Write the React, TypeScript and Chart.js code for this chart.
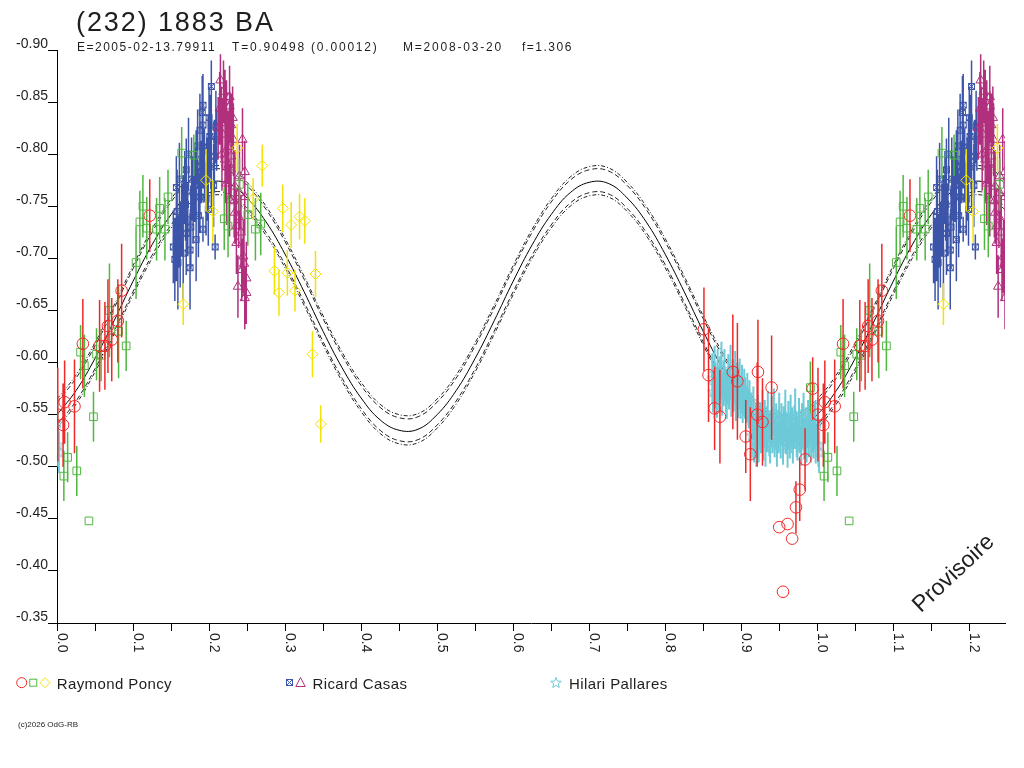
import React, { useEffect, useRef } from 'react';
import { Chart, registerables } from 'chart.js';

Chart.register(...registerables);

const FONT = '"Liberation Sans", Arial, sans-serif';
const TEXT = '#1e1e1e';

const RED = '#f02828';
const GREEN = '#50b840';
const YELLOW = '#f2e200';
const BLUE = '#3c55a8';
const MAGENTA = '#b0307e';
const CYAN = '#6ecad8';

// axes
const X_MIN = 0;
const X_MAX = 1.247;
const Y_TOP = -0.9;
const Y_BOTTOM = -0.35;
const X_LABELS = [0.0, 0.1, 0.2, 0.3, 0.4, 0.5, 0.6, 0.7, 0.8, 0.9, 1.0, 1.1, 1.2];

// fitted light curve
const curvePhase = [
  0.0, 0.025, 0.05, 0.075, 0.1, 0.125, 0.15, 0.175, 0.2, 0.225,
  0.25, 0.275, 0.3, 0.325, 0.35, 0.375, 0.4, 0.425, 0.45, 0.475,
  0.5, 0.525, 0.55, 0.575, 0.6, 0.625, 0.65, 0.675, 0.7, 0.725,
  0.75, 0.775, 0.8, 0.825, 0.85, 0.875, 0.9, 0.925, 0.95, 0.975,
  1.0, 1.025, 1.05, 1.075, 1.1, 1.125, 1.15, 1.175, 1.2, 1.225, 1.25,
];
const curveMag = [
  -0.550, -0.573, -0.604, -0.640, -0.678, -0.713, -0.742, -0.763, -0.773, -0.772,
  -0.758, -0.735, -0.704, -0.668, -0.630, -0.595, -0.566, -0.545, -0.535, -0.536,
  -0.550, -0.573, -0.604, -0.640, -0.678, -0.713, -0.742, -0.763, -0.773, -0.772,
  -0.758, -0.735, -0.704, -0.668, -0.630, -0.595, -0.566, -0.545, -0.535, -0.536,
  -0.550, -0.573, -0.604, -0.640, -0.678, -0.713, -0.742, -0.763, -0.773, -0.772, -0.758,
];
// envelope lines: offsets from the fitted curve (mag)
const envelopeOffsets = [-0.015, -0.012, 0.010, 0.013];

// Raymond Poncy — circles
const redPhase = [
  0.001, 0.008, 0.010, 0.023, 0.034, 0.056, 0.063, 0.067, 0.072, 0.080,
  0.085, 0.122, 0.851, 0.857, 0.865, 0.872, 0.889, 0.895, 0.906, 0.912,
  0.921, 0.922, 0.928, 0.940, 0.950, 0.955, 0.961, 0.967, 0.972, 0.977,
  0.984, 0.994,
];
const redMag = [
  -0.550, -0.540, -0.562, -0.558, -0.618, -0.616, -0.616, -0.635, -0.622, -0.640,
  -0.669, -0.741, -0.632, -0.588, -0.556, -0.548, -0.591, -0.582, -0.529, -0.512,
  -0.550, -0.591, -0.543, -0.576, -0.442, -0.380, -0.445, -0.431, -0.461, -0.478,
  -0.507, -0.575,
];
const redErr = [
  0.045, 0.040, 0.040, 0.045, 0.043, 0.044, 0.042, 0.045, 0.040, 0.040,
  0.045, 0.035, 0.040, 0.045, 0.040, 0.045, 0.055, 0.056, 0.035, 0.045,
  0.050, 0.050, 0.042, 0.050, 0, 0, 0, 0, 0.025, 0.030,
  0.030, 0.030,
];

// Raymond Poncy — squares
const greenPhase = [
  0.009, 0.014, 0.026, 0.031, 0.036, 0.042, 0.048, 0.052, 0.058, 0.069,
  0.081, 0.091, 0.104, 0.109, 0.113, 0.118, 0.131, 0.135, 0.142, 0.146,
  0.164, 0.180, 0.220, 0.225, 0.240, 0.251, 0.261, 0.268, 0.991,
];
const greenMag = [
  -0.491, -0.509, -0.496, -0.610, -0.597, -0.448, -0.548, -0.608, -0.607, -0.650,
  -0.630, -0.616, -0.696, -0.735, -0.750, -0.729, -0.728, -0.748, -0.728, -0.759,
  -0.801, -0.799, -0.738, -0.731, -0.771, -0.742, -0.728, -0.733, -0.576,
];
const greenErr = [
  0.024, 0.024, 0.024, 0.026, 0.030, 0, 0.024, 0.025, 0.025, 0.045,
  0.045, 0.024, 0.035, 0.030, 0.030, 0.030, 0.030, 0.030, 0.030, 0.026,
  0.025, 0.020, 0.030, 0.030, 0.025, 0.030, 0.030, 0.030, 0.025,
];

// Raymond Poncy — diamonds
const yellowPhase = [
  0.166, 0.196, 0.205, 0.237, 0.258, 0.270, 0.286, 0.292, 0.297, 0.303,
  0.308, 0.313, 0.319, 0.326, 0.336, 0.340, 0.347,
];
const yellowMag = [
  -0.656, -0.775, -0.745, -0.806, -0.757, -0.789, -0.688, -0.667, -0.748, -0.686,
  -0.732, -0.669, -0.740, -0.736, -0.608, -0.685, -0.541,
];
const yellowErr = [
  0.020, 0.030, 0.030, 0.023, 0.020, 0.020, 0.023, 0.022, 0.023, 0.022,
  0.022, 0.020, 0.022, 0.022, 0.022, 0.022, 0.018,
];

// Ricard Casas — crossed squares
const bluePhase = [
  0.153, 0.155, 0.157, 0.157, 0.159, 0.161, 0.161, 0.164, 0.166, 0.166,
  0.168, 0.170, 0.170, 0.172, 0.175, 0.175, 0.177, 0.179, 0.179, 0.183,
  0.183, 0.188, 0.188, 0.188, 0.190, 0.191, 0.192, 0.192, 0.192, 0.192,
  0.197, 0.199, 0.199, 0.201, 0.203, 0.203, 0.203, 0.208, 0.209, 0.210,
  0.158, 0.162, 0.169, 0.173, 0.176, 0.181, 0.185, 0.186, 0.194, 0.196,
  0.200, 0.206, 0.207,
];
const blueMag = [
  -0.711, -0.699, -0.768, -0.718, -0.696, -0.776, -0.731, -0.737, -0.750, -0.705,
  -0.768, -0.785, -0.724, -0.737, -0.691, -0.708, -0.776, -0.763, -0.744, -0.788,
  -0.718, -0.823, -0.795, -0.759, -0.783, -0.840, -0.847, -0.828, -0.807, -0.728,
  -0.776, -0.803, -0.747, -0.817, -0.865, -0.828, -0.788, -0.711, -0.826, -0.814,
  -0.745, -0.712, -0.752, -0.800, -0.730, -0.770, -0.808, -0.741, -0.790, -0.757,
  -0.835, -0.770, -0.798,
];
const blueErr = [
  0.035, 0.040, 0.030, 0.040, 0.045, 0.035, 0.040, 0.035, 0.030, 0.045,
  0.035, 0.030, 0.040, 0.035, 0.040, 0.035, 0.040, 0.035, 0.030, 0.035,
  0.040, 0.035, 0.040, 0.035, 0.030, 0.035, 0.030, 0.035, 0.040, 0.012,
  0.040, 0.035, 0.035, 0.040, 0.025, 0.035, 0.040, 0.012, 0.035, 0.030,
  0.040, 0.040, 0.035, 0.035, 0.040, 0.035, 0.035, 0.040, 0.035, 0.035,
  0.030, 0.040, 0.035,
];

// Ricard Casas — triangles
const magentaPhase = [
  0.212, 0.214, 0.215, 0.216, 0.218, 0.221, 0.221, 0.223, 0.223, 0.225,
  0.227, 0.227, 0.227, 0.229, 0.229, 0.232, 0.234, 0.234, 0.236, 0.236,
  0.238, 0.240, 0.240, 0.243, 0.244, 0.245, 0.247, 0.247, 0.247, 0.249, 0.249,
  0.217, 0.219, 0.226, 0.231, 0.233, 0.239, 0.242, 0.246,
];
const magentaMag = [
  -0.825, -0.844, -0.871, -0.830, -0.819, -0.851, -0.795, -0.836, -0.772, -0.807,
  -0.855, -0.846, -0.756, -0.828, -0.798, -0.814, -0.769, -0.744, -0.731, -0.715,
  -0.673, -0.779, -0.763, -0.689, -0.814, -0.702, -0.783, -0.759, -0.662, -0.681, -0.667,
  -0.800, -0.860, -0.790, -0.835, -0.755, -0.740, -0.725, -0.695,
];
const magentaErr = [
  0.030, 0.035, 0.025, 0.035, 0.035, 0.030, 0.040, 0.035, 0.040, 0.035,
  0.030, 0.035, 0.035, 0.030, 0.040, 0.035, 0.035, 0.030, 0.035, 0.030,
  0.030, 0.030, 0.035, 0.030, 0.030, 0.035, 0.030, 0.035, 0.030, 0.035, 0.030,
  0.035, 0.030, 0.035, 0.030, 0.035, 0.030, 0.035, 0.030,
];

// Hilari Pallares — stars
const cyanPhase = [
  0.862, 0.863, 0.865, 0.866, 0.868, 0.869, 0.871, 0.872, 0.874, 0.875,
  0.877, 0.878, 0.880, 0.881, 0.883, 0.884, 0.886, 0.887, 0.889, 0.890,
  0.892, 0.893, 0.895, 0.896, 0.898, 0.899, 0.901, 0.902, 0.904, 0.905,
  0.907, 0.908, 0.910, 0.911,
  0.913, 0.914, 0.916, 0.917, 0.919, 0.920, 0.922, 0.923, 0.925, 0.926,
  0.928, 0.929, 0.931, 0.932, 0.934, 0.935, 0.937, 0.938, 0.940, 0.941,
  0.943, 0.944, 0.946, 0.947, 0.949, 0.950, 0.952, 0.953, 0.955, 0.956,
  0.958, 0.959, 0.961, 0.962, 0.964, 0.965, 0.967, 0.968, 0.970, 0.971,
  0.973, 0.974, 0.976, 0.977, 0.979, 0.980, 0.982, 0.983, 0.985, 0.986,
  0.988, 0.989, 0.991, 0.992, 0.994, 0.995, 0.997, 0.998,
  0.0005, 0.0015, 0.0025,
];
const cyanMag = [
  -0.585, -0.572, -0.590, -0.578, -0.566, -0.588, -0.575, -0.583, -0.594, -0.569,
  -0.580, -0.588, -0.573, -0.565, -0.584, -0.577, -0.591, -0.568, -0.580, -0.574,
  -0.586, -0.563, -0.578, -0.571, -0.583, -0.566, -0.575, -0.561, -0.572, -0.566,
  -0.560, -0.569, -0.556, -0.563,
  -0.545, -0.530, -0.552, -0.524, -0.538, -0.521, -0.546, -0.529, -0.540, -0.533,
  -0.550, -0.527, -0.541, -0.519, -0.536, -0.548, -0.531, -0.523, -0.544, -0.535,
  -0.552, -0.528, -0.539, -0.520, -0.534, -0.547, -0.530, -0.541, -0.525, -0.537,
  -0.549, -0.532, -0.518, -0.540, -0.529, -0.545, -0.535, -0.522, -0.538, -0.550,
  -0.531, -0.526, -0.543, -0.534, -0.520, -0.539, -0.547, -0.527, -0.536, -0.523,
  -0.541, -0.530, -0.545, -0.524, -0.536, -0.528, -0.540, -0.522,
  -0.542, -0.521, -0.514,
];
const cyanErr = [
  0.024, 0.020, 0.026, 0.022, 0.019, 0.025, 0.021, 0.023, 0.026, 0.020,
  0.022, 0.025, 0.021, 0.019, 0.024, 0.022, 0.026, 0.020, 0.023, 0.021,
  0.025, 0.019, 0.022, 0.024, 0.021, 0.020, 0.023, 0.019, 0.022, 0.020,
  0.018, 0.021, 0.019, 0.020,
  0.026, 0.022, 0.025, 0.020, 0.024, 0.021, 0.023, 0.025, 0.022, 0.020,
  0.024, 0.021, 0.023, 0.019, 0.022, 0.025, 0.021, 0.020, 0.024, 0.022,
  0.023, 0.019, 0.022, 0.020, 0.021, 0.024, 0.022, 0.020, 0.023, 0.021,
  0.025, 0.020, 0.019, 0.023, 0.021, 0.024, 0.022, 0.019, 0.021, 0.025,
  0.022, 0.020, 0.023, 0.021, 0.019, 0.022, 0.024, 0.020, 0.021, 0.019,
  0.023, 0.021, 0.024, 0.020, 0.022, 0.020, 0.023, 0.019,
  0.022, 0.021, 0.020,
];

type Pt = { x: number; y: number };

// phases 0..0.247 are repeated at 1.0..1.247, as in the original plot
function build(phase: number[], mag: number[], err: number[]) {
  const data: Pt[] = [];
  const errors: number[] = [];
  phase.forEach((p, i) => {
    data.push({ x: p, y: mag[i] });
    errors.push(err[i]);
    if (p + 1 <= X_MAX) {
      data.push({ x: p + 1, y: mag[i] });
      errors.push(err[i]);
    }
  });
  return { data, errors };
}

function makeStar(color: string) {
  const c = document.createElement('canvas');
  c.width = 13;
  c.height = 13;
  const g = c.getContext('2d')!;
  g.strokeStyle = color;
  g.lineWidth = 1;
  g.beginPath();
  for (let k = 0; k < 10; k++) {
    const r = k % 2 ? 2.4 : 5.6;
    const a = -Math.PI / 2 + (k * Math.PI) / 5;
    const px = 6.5 + r * Math.cos(a);
    const py = 6.8 + r * Math.sin(a);
    if (k === 0) g.moveTo(px, py);
    else g.lineTo(px, py);
  }
  g.closePath();
  g.stroke();
  return c;
}

function makeCrossSquare(color: string) {
  const c = document.createElement('canvas');
  c.width = 9;
  c.height = 9;
  const g = c.getContext('2d')!;
  g.strokeStyle = color;
  g.lineWidth = 1;
  g.strokeRect(1.5, 1.5, 6, 6);
  g.beginPath();
  g.moveTo(1.5, 1.5);
  g.lineTo(7.5, 7.5);
  g.moveTo(7.5, 1.5);
  g.lineTo(1.5, 7.5);
  g.stroke();
  return c;
}

const errorBarPlugin = {
  id: 'errorBars',
  beforeDatasetDraw(chart: any, args: any) {
    const ds = chart.data.datasets[args.index];
    if (!ds.errors) return;
    const { ctx, chartArea, scales } = chart;
    const ys = scales.y;
    ctx.save();
    ctx.beginPath();
    ctx.rect(chartArea.left, chartArea.top, chartArea.right - chartArea.left, chartArea.bottom - chartArea.top);
    ctx.clip();
    ctx.strokeStyle = ds.errorColor;
    ctx.lineWidth = ds.errorWidth || 1.5;
    ctx.beginPath();
    args.meta.data.forEach((el: any, i: number) => {
      const e = ds.errors[i];
      if (!e) return;
      const p = ds.data[i];
      const x = el.x;
      ctx.moveTo(x, ys.getPixelForValue(p.y - e));
      ctx.lineTo(x, ys.getPixelForValue(p.y + e));
    });
    ctx.stroke();
    ctx.restore();
  },
};

const xLabelPlugin = {
  id: 'xLabels',
  afterDraw(chart: any) {
    const { ctx, scales } = chart;
    const xs = scales.x;
    ctx.save();
    ctx.font = `14px ${FONT}`;
    ctx.fillStyle = TEXT;
    ctx.textAlign = 'left';
    ctx.textBaseline = 'alphabetic';
    X_LABELS.forEach((v) => {
      const px = xs.getPixelForValue(v);
      ctx.save();
      ctx.translate(Math.round(px) + 1, 633);
      ctx.rotate(Math.PI / 2);
      ctx.fillText(v.toFixed(1), 0, 0);
      ctx.restore();
    });
    ctx.restore();
  },
};

function Txt(props: { x: number; baseline: number; size: number; spacing?: number; children: React.ReactNode; color?: string }) {
  const { x, baseline, size, spacing = 0, children, color = TEXT } = props;
  return (
    <div
      style={{
        position: 'absolute',
        left: x,
        top: baseline - 0.8465 * size,
        fontSize: size,
        lineHeight: `${size}px`,
        letterSpacing: spacing,
        whiteSpace: 'pre',
        color,
        fontFamily: FONT,
      }}
    >
      {children}
    </div>
  );
}

export default function App() {
  const ref = useRef<HTMLCanvasElement>(null);

  useEffect(() => {
    const canvas = ref.current;
    if (!canvas) return;

    const red = build(redPhase, redMag, redErr);
    const green = build(greenPhase, greenMag, greenErr);
    const yellow = build(yellowPhase, yellowMag, yellowErr);
    const blue = build(bluePhase, blueMag, blueErr);
    const magenta = build(magentaPhase, magentaMag, magentaErr);
    const cyan = build(cyanPhase, cyanMag, cyanErr);

    const curve = curvePhase.map((p, i) => ({ x: p, y: curveMag[i] }));
    const dashes = [[4, 2, 1, 2], [5, 3], [5, 3], [4, 2, 1, 2]];
    const envelopes = envelopeOffsets.map((off, k) => ({
      label: `envelope ${k}`,
      data: curvePhase.map((p, i) => ({ x: p, y: curveMag[i] + off })),
      showLine: true,
      pointRadius: 0,
      borderColor: '#222',
      borderWidth: 1,
      borderDash: dashes[k],
      tension: 0.4,
      order: 8 + k,
    }));

    const pointDs = (label: string, set: { data: Pt[]; errors: number[] }, color: string, style: any, radius: number, order: number, errorWidth = 1.5) => ({
      label,
      data: set.data,
      errors: set.errors,
      errorColor: color,
      errorWidth,
      showLine: false,
      pointStyle: style,
      pointRadius: radius,
      pointHoverRadius: radius,
      pointBorderColor: color,
      pointBackgroundColor: 'rgba(0,0,0,0)',
      pointBorderWidth: 1,
      borderColor: color,
      backgroundColor: 'rgba(0,0,0,0)',
      order,
    });

    const chart = new Chart(canvas, {
      type: 'scatter',
      data: {
        datasets: [
          pointDs('Raymond Poncy (circle)', red, RED, 'circle', 5.8, 1),
          pointDs('Raymond Poncy (square)', green, GREEN, 'rect', 5.4, 2),
          pointDs('Raymond Poncy (diamond)', yellow, YELLOW, 'rectRot', 5.5, 3),
          pointDs('Ricard Casas (triangle)', magenta, MAGENTA, 'triangle', 5.4, 4),
          pointDs('Ricard Casas (crossed square)', blue, BLUE, makeCrossSquare(BLUE), 4.5, 5),
          pointDs('Hilari Pallares (star)', cyan, CYAN, makeStar(CYAN), 6, 6, 2),
          {
            label: 'fit',
            data: curve,
            showLine: true,
            pointRadius: 0,
            borderColor: '#000',
            borderWidth: 1,
            tension: 0.4,
            order: 7,
          },
          ...envelopes,
        ] as any,
      },
      options: {
        responsive: false,
        animation: false,
        events: [],
        layout: { padding: { left: 0, right: 19, top: 50, bottom: 0 } },
        plugins: {
          legend: { display: false },
          tooltip: { enabled: false },
          title: { display: false },
        },
        scales: {
          x: {
            type: 'linear',
            position: 'bottom',
            min: X_MIN,
            max: X_MAX,
            afterFit: (s: any) => {
              s.height = 145;
            },
            ticks: { display: false, stepSize: 0.05, includeBounds: false, autoSkip: false },
            grid: { drawOnChartArea: false, drawTicks: true, tickLength: 8, color: '#000', lineWidth: 1 },
            border: { display: true, color: '#000', width: 1 },
          },
          y: {
            type: 'linear',
            position: 'left',
            reverse: true,
            min: Y_TOP,
            max: Y_BOTTOM,
            afterFit: (s: any) => {
              s.width = 57;
            },
            ticks: {
              stepSize: 0.05,
              padding: 0,
              labelOffset: -6,
              color: TEXT,
              font: { family: FONT, size: 14 },
              callback: (v: any) => Number(v).toFixed(2),
            },
            grid: { drawOnChartArea: false, drawTicks: true, tickLength: 9, color: '#000', lineWidth: 1 },
            border: { display: true, color: '#000', width: 1 },
          },
        },
      } as any,
      plugins: [errorBarPlugin, xLabelPlugin],
    });

    return () => chart.destroy();
  }, []);

  const starPts = Array.from({ length: 10 }, (_, k) => {
    const r = k % 2 ? 2.4 : 5.6;
    const a = -Math.PI / 2 + (k * Math.PI) / 5;
    return `${556 + r * Math.cos(a)},${683 + r * Math.sin(a)}`;
  }).join(' ');

  return (
    <div style={{ position: 'absolute', left: 0, top: 0, width: 1024, height: 768, background: '#fff', overflow: 'hidden' }}>
      <canvas ref={ref} width={1024} height={768} style={{ position: 'absolute', left: 0, top: 0, width: 1024, height: 768 }} />

      <Txt x={76} baseline={32} size={27} spacing={1.9}>(232) 1883 BA</Txt>
      <Txt x={77} baseline={51.5} size={12} spacing={1.5}>E=2005-02-13.79911</Txt>
      <Txt x={232} baseline={51.5} size={12} spacing={1.8}>T=0.90498 (0.00012)</Txt>
      <Txt x={403} baseline={51.5} size={12} spacing={1.8}>M=2008-03-20</Txt>
      <Txt x={522} baseline={51.5} size={12} spacing={1.5}>f=1.306</Txt>

      <svg width={1024} height={768} style={{ position: 'absolute', left: 0, top: 0, pointerEvents: 'none' }}>
        <circle cx={21.7} cy={682.7} r={5} fill="none" stroke={RED} strokeWidth={1} />
        <rect x={29.8} y={679.2} width={7} height={7} fill="none" stroke={GREEN} strokeWidth={1} />
        <polygon points="45,677.7 50,682.7 45,687.7 40,682.7" fill="none" stroke={YELLOW} strokeWidth={1} />
        <rect x={286.5} y={679.5} width={6} height={6} fill="none" stroke={BLUE} strokeWidth={1} />
        <path d="M286.5 679.5 L292.5 685.5 M292.5 679.5 L286.5 685.5" stroke={BLUE} strokeWidth={1} />
        <polygon points="300.5,677.5 305.2,686.5 295.8,686.5" fill="none" stroke={MAGENTA} strokeWidth={1} />
        <polygon points={starPts} fill="none" stroke={CYAN} strokeWidth={1} />
      </svg>

      <Txt x={56.7} baseline={688.3} size={15} spacing={0.4}>Raymond Poncy</Txt>
      <Txt x={312.5} baseline={688.3} size={15} spacing={0.4}>Ricard Casas</Txt>
      <Txt x={569} baseline={688.3} size={15} spacing={0.4}>Hilari Pallares</Txt>

      <Txt x={18} baseline={728} size={8}>(c)2026 OdG-RB</Txt>

      <div
        style={{
          position: 'absolute',
          left: 921,
          top: 613 - 0.8465 * 23,
          fontSize: 23,
          lineHeight: '23px',
          whiteSpace: 'pre',
          color: TEXT,
          fontFamily: FONT,
          transformOrigin: `0px ${0.8465 * 23}px`,
          transform: 'rotate(-43deg)',
        }}
      >
        Provisoire
      </div>
    </div>
  );
}
